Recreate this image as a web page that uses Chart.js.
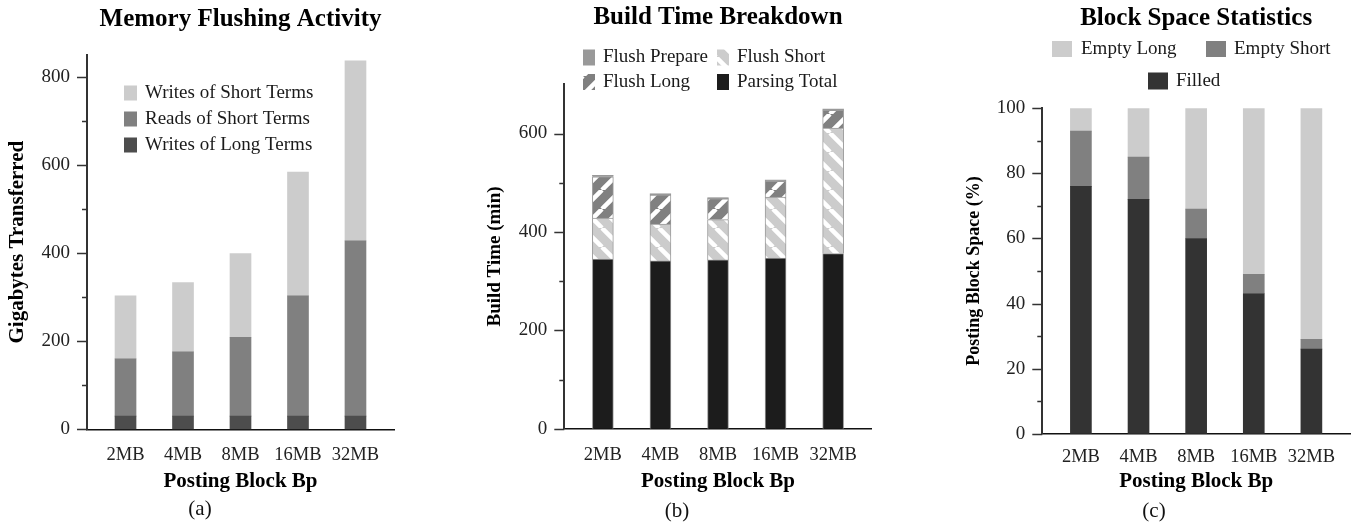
<!DOCTYPE html>
<html>
<head>
<meta charset="utf-8">
<title>Posting block experiments</title>
<script src="https://cdn.jsdelivr.net/npm/chart.js@4.4.1/dist/chart.umd.min.js"></script>
<style>
  html, body { margin: 0; padding: 0; background: #fff; }
  body { position: relative; width: 1353px; height: 522px; overflow: hidden; }
  canvas { position: absolute; top: 0; }
  .cap {
    position: absolute;
    font: 21px "Liberation Serif", serif;
    color: #111;
    transform: translate(-50%, -50%);
    white-space: nowrap;
  }
</style>
</head>
<body>
<canvas id="cFlush" width="450" height="522" style="left:0"></canvas>
<canvas id="cBuild" width="450" height="522" style="left:450px"></canvas>
<canvas id="cSpace" width="456" height="522" style="left:900px"></canvas>
<div class="cap" style="left:200px; top:508px">(a)</div>
<div class="cap" style="left:677px; top:510px">(b)</div>
<div class="cap" style="left:1154px; top:510px">(c)</div>

<script>
/* ===== Data ===== */
const blockSizes = ["2MB", "4MB", "8MB", "16MB", "32MB"];

// (a) gigabytes moved by flushes
const longWrites = [30, 30, 30, 30, 30];
const shortReads = [130, 146, 179, 273, 398];
const shortWrites = [143, 157, 190, 281, 409];

// (b) build time, minutes
const parsingTotal = [345, 341, 343, 347, 356];
const flushShort = [83, 75, 82, 124, 255];
const flushLong = [84, 59, 42, 32, 36];
const flushPrepare = [3, 3, 3, 3, 3];

// (c) share of posting block space, %
const filled = [76, 72, 60, 43, 26];
const emptyShort = [17, 13, 9, 6, 3];
const emptyLong = [7, 15, 31, 51, 71];

/* ===== Helpers ===== */
const SERIF = "'Liberation Serif', 'Times New Roman', serif";
Chart.defaults.font.family = SERIF;
Chart.defaults.color = "#1a1a1a";

const points = (vals) => vals.map((v, i) => ({ x: i, y: v }));

// diagonal white stripes over a grey fill
function hatch(base, dir) {
  const size = 19;
  const c = document.createElement("canvas");
  c.width = c.height = size;
  const g = c.getContext("2d");
  g.fillStyle = base;
  g.fillRect(0, 0, size, size);
  g.strokeStyle = "#fff";
  g.lineWidth = 4.5;
  g.beginPath();
  for (const k of [-size, 0, size]) {
    if (dir === "/") {
      g.moveTo(k, size);
      g.lineTo(k + size, 0);
    } else {
      g.moveTo(k, 0);
      g.lineTo(k + size, size);
    }
  }
  g.stroke();
  return g.createPattern(c, "repeat");
}

// long/short tick marks on the value axis
const yTickMarks = {
  id: "yTickMarks",
  afterDraw(chart, args, opts) {
    const { ctx, chartArea } = chart;
    const y = chart.scales.y;
    const x0 = chartArea.left;
    ctx.save();
    ctx.strokeStyle = "#333";
    ctx.lineWidth = 1.5;
    ctx.beginPath();
    opts.major.forEach((v) => {
      const p = Math.round(y.getPixelForValue(v)) + 0.5;
      ctx.moveTo(x0 - 10, p);
      ctx.lineTo(x0, p);
    });
    opts.minor.forEach((v) => {
      const p = Math.round(y.getPixelForValue(v)) + 0.5;
      ctx.moveTo(x0 - 5, p);
      ctx.lineTo(x0, p);
    });
    ctx.stroke();
    ctx.restore();
  },
};

// legend swatches placed by hand
const boxLegend = {
  id: "boxLegend",
  afterDraw(chart, args, opts) {
    const ctx = chart.ctx;
    ctx.save();
    ctx.font = "19px " + SERIF;
    ctx.textBaseline = "middle";
    ctx.textAlign = "left";
    opts.items.forEach((it) => {
      const ds = chart.data.datasets[it.ds];
      ctx.fillStyle = ds.backgroundColor;
      ctx.fillRect(it.x, it.y - it.h / 2, it.w, it.h);
      ctx.fillStyle = "#1a1a1a";
      ctx.fillText(ds.label, it.tx, it.y);
    });
    ctx.restore();
  },
};

function buildChart(id, cfg) {
  const W = document.getElementById(id).width;
  const H = 522;
  const area = cfg.area;
  const titleTop = cfg.titleY - 15;

  return new Chart(document.getElementById(id), {
    type: "bar",
    data: { datasets: cfg.datasets },
    options: {
      responsive: false,
      animation: false,
      events: [],
      layout: { padding: { left: 0, top: 0, bottom: 0, right: W - area.right } },
      datasets: { bar: { barThickness: 21 } },
      plugins: {
        legend: { display: false },
        tooltip: { enabled: false },
        title: {
          display: true,
          fullSize: false,
          text: cfg.title,
          color: "#000",
          font: { size: 25, weight: "bold" },
          padding: { top: titleTop, bottom: area.top - titleTop - 30 },
        },
        yTickMarks: { major: cfg.yMajor, minor: cfg.yMinor },
        boxLegend: { items: cfg.legend },
      },
      scales: {
        x: {
          type: "linear",
          min: -0.67,
          max: 4.67,
          offset: false,
          stacked: true,
          z: 1,
          grid: { display: false, drawTicks: false },
          border: { display: true, color: "#111", width: 1.5 },
          afterBuildTicks: (s) => {
            s.ticks = blockSizes.map((_, i) => ({ value: i }));
          },
          afterFit: (s) => {
            s.height = H - area.bottom;
          },
          ticks: {
            padding: cfg.xTickY - area.bottom - 11.1,
            color: "#222",
            font: { size: 18.5 },
            maxRotation: 0,
            autoSkip: false,
            callback: (v) => blockSizes[v] ?? "",
          },
          title: {
            display: true,
            text: "Posting Block Bp",
            color: "#000",
            font: { size: 21, weight: "bold" },
            padding: { top: 0, bottom: H - 482 - 12.6 },
          },
        },
        y: {
          min: 0,
          max: cfg.yMax,
          stacked: true,
          z: 1,
          grid: { display: false, drawTicks: false },
          border: { display: true, color: "#333", width: 2 },
          afterBuildTicks: (s) => {
            s.ticks = cfg.yMajor.map((v) => ({ value: v }));
          },
          afterFit: (s) => {
            s.width = area.left;
          },
          ticks: { padding: 17, color: "#222", font: { size: 19 } },
          title: {
            display: true,
            text: cfg.yTitle,
            color: "#000",
            font: { size: cfg.yTitleSize, weight: "bold" },
            padding: { top: cfg.yTitleX - cfg.yTitleSize * 0.6, bottom: 0 },
          },
        },
      },
    },
    plugins: [yTickMarks, boxLegend],
  });
}

/* ===== (a) Memory Flushing Activity ===== */
buildChart("cFlush", {
  title: "Memory Flushing Activity",
  titleY: 20,
  area: { left: 87, right: 394, top: 55, bottom: 429.3 },
  xTickY: 455,
  yMax: 850,
  yMajor: [0, 200, 400, 600, 800],
  yMinor: [100, 300, 500, 700],
  yTitle: "Gigabytes Transferred",
  yTitleSize: 21,
  yTitleX: 18,
  datasets: [
    { label: "Writes of Long Terms", data: points(longWrites), backgroundColor: "#4d4d4d" },
    { label: "Reads of Short Terms", data: points(shortReads), backgroundColor: "#808080" },
    { label: "Writes of Short Terms", data: points(shortWrites), backgroundColor: "#cccccc" },
  ],
  legend: [
    { ds: 2, x: 124, y: 93, w: 13, h: 15, tx: 145 },
    { ds: 1, x: 124, y: 119, w: 13, h: 15, tx: 145 },
    { ds: 0, x: 124, y: 145, w: 13, h: 15, tx: 145 },
  ],
});

/* ===== (b) Build Time Breakdown ===== */
const barEdge = { borderColor: "#9a9a9a", borderWidth: 1 };
buildChart("cBuild", {
  title: "Build Time Breakdown",
  titleY: 17.3,
  area: { left: 114.3, right: 421.7, top: 84.3, bottom: 428.7 },
  xTickY: 455.5,
  yMax: 700,
  yMajor: [0, 200, 400, 600],
  yMinor: [100, 300, 500],
  yTitle: "Build Time (min)",
  yTitleSize: 19,
  yTitleX: 45,
  datasets: [
    { label: "Parsing Total", data: points(parsingTotal), backgroundColor: "#1c1c1c", ...barEdge },
    { label: "Flush Short", data: points(flushShort), backgroundColor: hatch("#cccccc", "\\"), ...barEdge },
    { label: "Flush Long", data: points(flushLong), backgroundColor: hatch("#808080", "/"), ...barEdge },
    { label: "Flush Prepare", data: points(flushPrepare), backgroundColor: "#999999", ...barEdge },
  ],
  legend: [
    { ds: 3, x: 133, y: 57.5, w: 12, h: 16, tx: 153 },
    { ds: 1, x: 267, y: 57.5, w: 12, h: 16, tx: 287 },
    { ds: 2, x: 133, y: 82, w: 12, h: 16, tx: 153 },
    { ds: 0, x: 267, y: 82, w: 12, h: 16, tx: 287 },
  ],
});

/* ===== (c) Block Space Statistics ===== */
buildChart("cSpace", {
  title: "Block Space Statistics",
  titleY: 18.3,
  area: { left: 142.3, right: 450, top: 108.3, bottom: 433.7 },
  xTickY: 457,
  yMax: 100,
  yMajor: [0, 20, 40, 60, 80, 100],
  yMinor: [10, 30, 50, 70, 90],
  yTitle: "Posting Block Space (%)",
  yTitleSize: 18,
  yTitleX: 74,
  datasets: [
    { label: "Filled", data: points(filled), backgroundColor: "#333333" },
    { label: "Empty Short", data: points(emptyShort), backgroundColor: "#808080" },
    { label: "Empty Long", data: points(emptyLong), backgroundColor: "#cccccc" },
  ],
  legend: [
    { ds: 2, x: 152, y: 49, w: 20, h: 16, tx: 181 },
    { ds: 1, x: 306, y: 49, w: 20, h: 16, tx: 334 },
    { ds: 0, x: 248, y: 81, w: 20, h: 17, tx: 276 },
  ],
});
</script>
</body>
</html>
